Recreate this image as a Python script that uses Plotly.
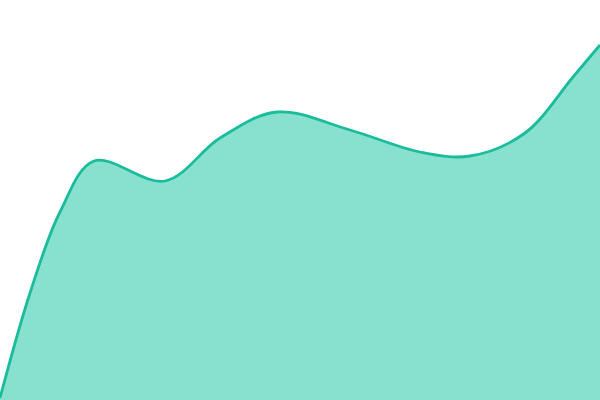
import plotly.graph_objects as go

x_vals = [0, 30, 60, 94, 165, 220, 277, 350, 420, 470, 525, 573, 600]
y_vals = [2, 107, 188, 239, 219, 262, 288, 270, 248, 244, 267, 323, 355]

fig = go.Figure()
fig.add_trace(go.Scatter(x=x_vals, y=y_vals, mode="lines",
                         line=dict(color="#1abc9c", width=2.8, shape="spline", smoothing=1.0),
                         fill="tozeroy", fillcolor="#88e0cf"))

fig.update_layout(width=600, height=400, margin=dict(l=0, r=0, t=0, b=0),
                  paper_bgcolor="white", plot_bgcolor="white", showlegend=False)
fig.update_xaxes(visible=False, range=[0, 600])
fig.update_yaxes(visible=False, range=[0, 400])

fig.write_html("out.html", config={"displayModeBar": False},
               post_script="document.body.style.margin='0';")
